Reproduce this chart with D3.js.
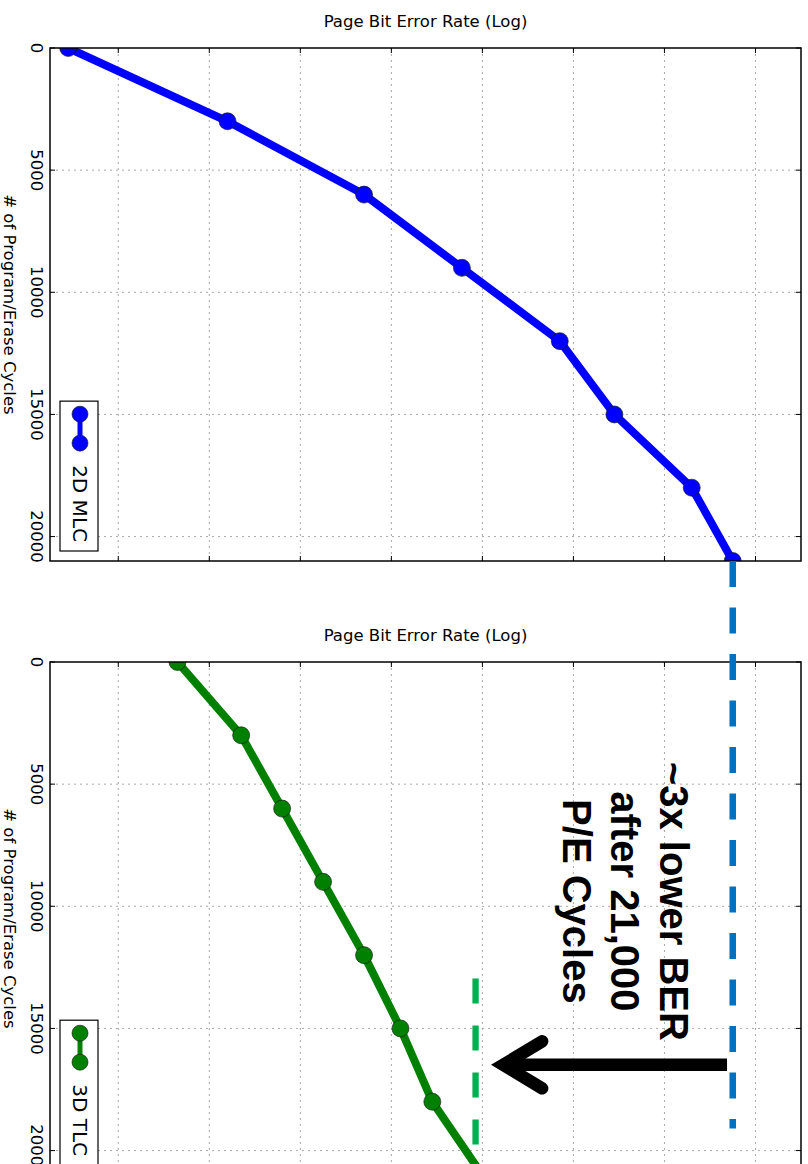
<!DOCTYPE html>
<html>
<head>
<meta charset="utf-8">
<script src="https://cdn.jsdelivr.net/npm/d3@7"></script>
<style>
  html, body { margin: 0; padding: 0; background: #fff; }
  svg { display: block; }
</style>
</head>
<body>
<script>
// ---------------- data ----------------
const peCycles = [0, 3000, 6000, 9000, 12000, 15000, 18000, 21000];
const mlc2dLogBer = [-4.51, -4.16, -3.86, -3.645, -3.43, -3.31, -3.14, -3.05];
const tlc3dLogBer = [-4.27, -4.13, -4.04, -3.95, -3.86, -3.78, -3.71, -3.60];
const seriesNames = ["2D MLC", "3D TLC"];
const seriesColors = ["#0000ff", "#008000"];
const yTicks = [0, 5000, 10000, 15000, 20000];
const xGridValues = [-4.4, -4.2, -4.0, -3.8, -3.6, -3.4, -3.2, -3.0];
const xDomain = [-4.55, -2.90];
const yDomain = [0, 21000];
const titleText = "Page Bit Error Rate (Log)";
const yLabelText = "# of Program/Erase Cycles";
const annotationLines = ["~3x lower BER", "after 21,000", "P/E Cycles"];
// annotation anchors (data units)
const blueRefLogBer = -3.05;       // 2D MLC BER at 21,000 cycles
const blueRefEndCycles = 19100;    // end of blue guide in lower panel
const greenRefLogBer = -3.615;     // 3D TLC reference
const greenRefCycles = [12960, 19810];
const arrowFromLogBer = -3.0625, arrowToLogBer = -3.583, arrowCycles = 16490;

// ---------------- layout ----------------
const W = 808, H = 1164;
const left = 50, right = 801, panelH = 513;
const panelTops = [48, 662];

const svg = d3.select("body").append("svg")
  .attr("width", W).attr("height", H)
  .attr("viewBox", `0 0 ${W} ${H}`);
svg.append("rect").attr("width", W).attr("height", H).attr("fill", "#fff");

const x = d3.scaleLinear().domain(xDomain).range([left, right]);
const FONT = "'DejaVu Sans', sans-serif";

const panelData = [mlc2dLogBer, tlc3dLogBer];
const yScales = [];

panelTops.forEach((top, i) => {
  const y = d3.scaleLinear().domain(yDomain).range([top, top + panelH]);
  yScales.push(y);
  const g = svg.append("g");

  const clipId = "clip" + i;
  svg.append("defs").append("clipPath").attr("id", clipId)
    .append("rect").attr("x", left).attr("y", top)
    .attr("width", right - left).attr("height", panelH);

  // grid
  g.selectAll(".vg").data(xGridValues).enter().append("line")
    .attr("x1", d => x(d)).attr("x2", d => x(d))
    .attr("y1", top).attr("y2", top + panelH)
    .attr("stroke", "#a8a8a8").attr("stroke-width", 1)
    .attr("stroke-dasharray", "2,4");
  g.selectAll(".hg").data(yTicks.filter(t => t > 0)).enter().append("line")
    .attr("x1", left).attr("x2", right)
    .attr("y1", d => y(d)).attr("y2", d => y(d))
    .attr("stroke", "#a8a8a8").attr("stroke-width", 1)
    .attr("stroke-dasharray", "2,4");

  // ticks (inside)
  const tk = 5;
  g.selectAll(".tt").data(xGridValues).enter().append("line")
    .attr("x1", d => x(d)).attr("x2", d => x(d))
    .attr("y1", top).attr("y2", top + tk).attr("stroke", "#000");
  g.selectAll(".tb").data(xGridValues).enter().append("line")
    .attr("x1", d => x(d)).attr("x2", d => x(d))
    .attr("y1", top + panelH).attr("y2", top + panelH - tk).attr("stroke", "#000");
  g.selectAll(".tl").data(yTicks).enter().append("line")
    .attr("x1", left).attr("x2", left + tk)
    .attr("y1", d => y(d)).attr("y2", d => y(d)).attr("stroke", "#000");
  g.selectAll(".tr").data(yTicks).enter().append("line")
    .attr("x1", right).attr("x2", right - tk)
    .attr("y1", d => y(d)).attr("y2", d => y(d)).attr("stroke", "#000");

  // series
  const vals = panelData[i];
  const pts = peCycles.map((c, k) => ({ c, v: vals[k] }));
  const dg = g.append("g").attr("clip-path", `url(#${clipId})`);
  dg.append("path").datum(pts)
    .attr("d", d3.line().x(d => x(d.v)).y(d => y(d.c)))
    .attr("fill", "none").attr("stroke", seriesColors[i])
    .attr("stroke-width", 8).attr("stroke-linejoin", "round");
  dg.selectAll("circle").data(pts).enter().append("circle")
    .attr("cx", d => x(d.v)).attr("cy", d => y(d.c)).attr("r", 8.5)
    .attr("fill", seriesColors[i]).attr("stroke", "#1a1a1a").attr("stroke-width", 0.8)
    .attr("stroke-opacity", 0.8);

  // frame
  g.append("rect").attr("x", left).attr("y", top)
    .attr("width", right - left).attr("height", panelH)
    .attr("fill", "none").attr("stroke", "#000").attr("stroke-width", 1.5);

  // tick labels (rotated)
  g.selectAll(".yl").data(yTicks).enter().append("text")
    .attr("transform", d => `translate(30.5,${y(d)}) rotate(90)`)
    .attr("text-anchor", "middle")
    .attr("font-family", FONT).attr("font-size", 16.5).attr("fill", "#000")
    .text(d => String(d));

  // title
  g.append("text").attr("x", (left + right) / 2).attr("y", top - 21)
    .attr("text-anchor", "middle").attr("font-family", FONT)
    .attr("font-size", 16.5).attr("fill", "#000").text(titleText);

  // y label
  g.append("text")
    .attr("transform", `translate(4,${top + panelH / 2}) rotate(90)`)
    .attr("text-anchor", "middle").attr("font-family", FONT)
    .attr("font-size", 16.5).attr("fill", "#000").text(yLabelText);

  // legend
  const lg = g.append("g");
  const boxBottom = top + panelH - 10;
  const lt = lg.append("text").attr("font-family", FONT).attr("font-size", 20)
    .attr("fill", "#000").text(seriesNames[i]);
  const len = lt.node().getComputedTextLength();
  const textEnd = boxBottom - 9;
  const textStart = textEnd - len;
  lt.attr("transform", `translate(72.5,${textStart}) rotate(90)`);
  const m2 = textStart - 22, m1 = m2 - 29, boxTop = m1 - 13;
  lg.insert("rect", "text").attr("x", 60).attr("y", boxTop)
    .attr("width", 38).attr("height", boxBottom - boxTop)
    .attr("fill", "#fff").attr("stroke", "#000").attr("stroke-width", 1.2);
  lg.append("line").attr("x1", 80).attr("x2", 80).attr("y1", m1).attr("y2", m2)
    .attr("stroke", seriesColors[i]).attr("stroke-width", 5);
  [m1, m2].forEach(m => lg.append("circle").attr("cx", 80).attr("cy", m).attr("r", 8)
    .attr("fill", seriesColors[i]).attr("stroke", "#1a1a1a").attr("stroke-width", 0.8)
    .attr("stroke-opacity", 0.8));
});

// ---------------- annotations ----------------
const yTop = yScales[0], yBot = yScales[1];
const ann = svg.append("g");
// blue guide from end of 2D MLC curve down into lower panel
ann.append("line")
  .attr("x1", x(blueRefLogBer)).attr("x2", x(blueRefLogBer))
  .attr("y1", yTop(21000)).attr("y2", yBot(blueRefEndCycles))
  .attr("stroke", "#0070c0").attr("stroke-width", 6.5)
  .attr("stroke-dasharray", "26,20.5");
// green guide
ann.append("line")
  .attr("x1", x(greenRefLogBer)).attr("x2", x(greenRefLogBer))
  .attr("y1", yBot(greenRefCycles[0])).attr("y2", yBot(greenRefCycles[1]))
  .attr("stroke", "#00b050").attr("stroke-width", 6.3)
  .attr("stroke-dasharray", "25,22");
// arrow (tip drawn at arrowToLogBer; miter vertex set back by its extension)
const ax0 = x(arrowFromLogBer), tipX = x(arrowToLogBer), ay = yBot(arrowCycles);
const vx = tipX + 13;
ann.append("line").attr("x1", ax0).attr("x2", vx).attr("y1", ay).attr("y2", ay)
  .attr("stroke", "#000").attr("stroke-width", 12.5);
ann.append("path")
  .attr("d", `M${vx + 39},${ay - 23.5} L${vx},${ay} L${vx + 39},${ay + 23.5}`)
  .attr("fill", "none").attr("stroke", "#000").attr("stroke-width", 12.5)
  .attr("stroke-linecap", "round").attr("stroke-linejoin", "miter")
  .attr("stroke-miterlimit", 10);
// text
const textCenterY = yBot(9800);
const baselines = [660, 611, 563];
annotationLines.forEach((t, k) => {
  ann.append("text")
    .attr("transform", `translate(${baselines[k]},${textCenterY}) rotate(90)`)
    .attr("text-anchor", "middle")
    .attr("font-family", "'Liberation Sans', Arial, sans-serif")
    .attr("font-weight", "bold").attr("font-size", 40).attr("fill", "#000")
    .text(t);
});
</script>
</body>
</html>
